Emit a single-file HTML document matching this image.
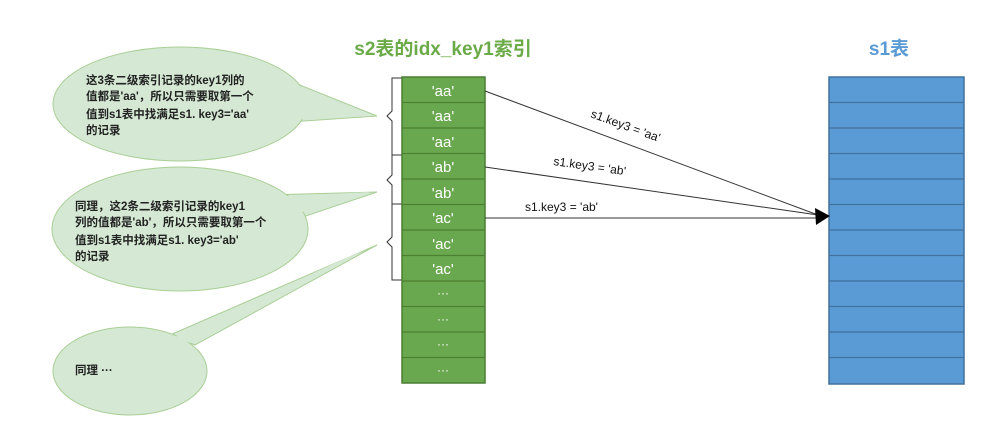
<!DOCTYPE html>
<html><head><meta charset="utf-8"><style>
body{margin:0;background:#fff;}
svg text{font-family:"Liberation Sans","Noto Sans CJK SC",sans-serif;}
</style></head><body>
<svg width="992" height="441" viewBox="0 0 992 441" xmlns="http://www.w3.org/2000/svg">
<text x="443" y="55" text-anchor="middle" font-size="19" font-weight="bold" fill="#6aab48">s2表的idx_key1索引</text>
<text x="889" y="55" text-anchor="middle" font-size="19" font-weight="bold" fill="#5b9bd5">s1表</text>

<!-- ellipses with tails -->
<g fill="#d5e8d4" stroke="#a9cf96" stroke-width="1">
<path d="M250,65 L377,116 L290,122 Z"/>
<ellipse cx="180" cy="104" rx="127" ry="57"/>
<path d="M265,195 L377,192 L300,218 Z"/>
<ellipse cx="180" cy="229" rx="128" ry="62"/>
<path d="M170,335 L377,245 L195,345 Z"/>
<ellipse cx="130" cy="371" rx="77" ry="44"/>
</g>
<g fill="#d5e8d4"><path d="M255,67 L370,116 L285,120 Z"/><path d="M270,197 L370,192 L295,214 Z"/><path d="M175,337 L370,247 L190,343 Z"/></g>

<g font-size="11.5" font-weight="bold" fill="#222">
<text x="86" y="84">这3条二级索引记录的key1列的</text>
<text x="86" y="100">值都是'aa'，所以只需要取第一个</text>
<text x="86" y="118">值到s1表中找满足s1. key3='aa'</text>
<text x="86" y="134">的记录</text>
<text x="75" y="210">同理，这2条二级索引记录的key1</text>
<text x="75" y="226">列的值都是'ab'，所以只需要取第一个</text>
<text x="75" y="244">值到s1表中找满足s1. key3='ab'</text>
<text x="75" y="260">的记录</text>
<text x="75" y="374">同理 ···</text>
</g>

<!-- braces -->
<g fill="none" stroke="#333" stroke-width="1">
<path d="M402,78 h-10 v33 l-5,5 l5,5 v34 h10"/>
<path d="M402,155 h-10 v20 l-5,5 l5,5 v19 h10"/>
<path d="M402,204 h-10 v33 l-5,5 l5,5 v33 h10"/>
</g>

<!-- green column -->
<g stroke="#4b7f32" stroke-width="1.5" fill="#6aa84f">
<rect x="402" y="77" width="83" height="306"/>
</g>
<g stroke="#4b7f32" stroke-width="1.2">
<line x1="402" y1="102.5" x2="485" y2="102.5"/><line x1="402" y1="128" x2="485" y2="128"/><line x1="402" y1="153.5" x2="485" y2="153.5"/><line x1="402" y1="179" x2="485" y2="179"/><line x1="402" y1="204.5" x2="485" y2="204.5"/><line x1="402" y1="230" x2="485" y2="230"/><line x1="402" y1="255.5" x2="485" y2="255.5"/><line x1="402" y1="281" x2="485" y2="281"/><line x1="402" y1="306.5" x2="485" y2="306.5"/><line x1="402" y1="332" x2="485" y2="332"/><line x1="402" y1="357.5" x2="485" y2="357.5"/>
</g>
<g font-size="15" fill="#fff" text-anchor="middle">
<text x="443" y="96">'aa'</text><text x="443" y="121">'aa'</text><text x="443" y="147">'aa'</text>
<text x="443" y="172">'ab'</text><text x="443" y="198">'ab'</text>
<text x="443" y="223">'ac'</text><text x="443" y="249">'ac'</text><text x="443" y="274">'ac'</text>
<text x="443" y="297" font-size="12">···</text><text x="443" y="323" font-size="12">···</text><text x="443" y="348" font-size="12">···</text><text x="443" y="374" font-size="12">···</text>
</g>

<!-- blue column -->
<rect x="829" y="77" width="135" height="307" fill="#5b9bd5" stroke="#41719c" stroke-width="1.5"/>
<g stroke="#41719c" stroke-width="1.2">
<line x1="829" y1="102.5" x2="964" y2="102.5"/><line x1="829" y1="128" x2="964" y2="128"/><line x1="829" y1="153.5" x2="964" y2="153.5"/><line x1="829" y1="179" x2="964" y2="179"/><line x1="829" y1="204.5" x2="964" y2="204.5"/><line x1="829" y1="230" x2="964" y2="230"/><line x1="829" y1="255.5" x2="964" y2="255.5"/><line x1="829" y1="281" x2="964" y2="281"/><line x1="829" y1="306.5" x2="964" y2="306.5"/><line x1="829" y1="332" x2="964" y2="332"/><line x1="829" y1="357.5" x2="964" y2="357.5"/>
</g>

<!-- arrows -->
<g stroke="#333" stroke-width="1" fill="none">
<line x1="485" y1="91" x2="818" y2="215"/>
<line x1="485" y1="167" x2="818" y2="215"/>
<line x1="485" y1="218" x2="818" y2="218"/>
</g>
<path d="M815,208 L830,216 L816,225 Z" fill="#000"/>
<g font-size="12" fill="#111">
<text x="590" y="117" transform="rotate(20 590 117)">s1.key3 = 'aa'</text>
<text x="553" y="165" transform="rotate(8 553 165)">s1.key3 = 'ab'</text>
<text x="525" y="211">s1.key3 = 'ab'</text>
</g>
</svg>
</body></html>
